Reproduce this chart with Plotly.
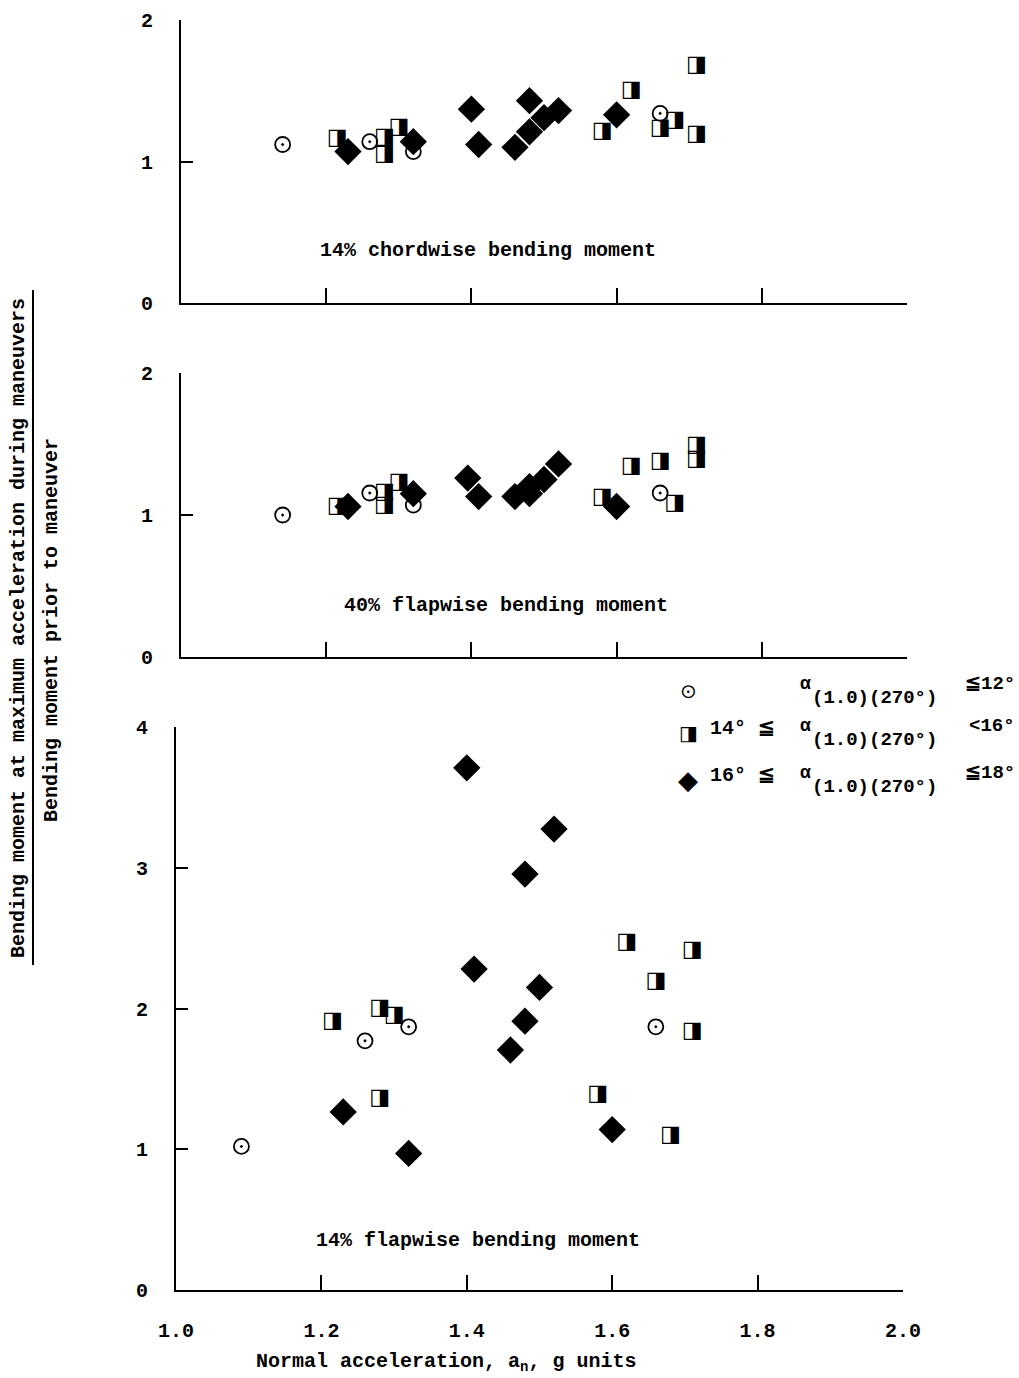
import plotly.graph_objects as go

# ---- data: normal acceleration (g) vs. bending-moment ratio ----
# Panel A: 14% chordwise bending moment
a_circ_x = [1.14, 1.26, 1.32, 1.66]
a_circ_y = [1.12, 1.14, 1.07, 1.34]
a_sq_x = [1.215, 1.28, 1.28, 1.30, 1.58, 1.62, 1.66, 1.68, 1.71, 1.71]
a_sq_y = [1.16, 1.17, 1.05, 1.24, 1.21, 1.50, 1.23, 1.29, 1.68, 1.19]
a_dia_x = [1.23, 1.32, 1.40, 1.41, 1.46, 1.48, 1.48, 1.50, 1.52, 1.60]
a_dia_y = [1.07, 1.14, 1.37, 1.12, 1.10, 1.43, 1.21, 1.31, 1.36, 1.33]

# Panel B: 40% flapwise bending moment
b_circ_x = [1.14, 1.26, 1.32, 1.66]
b_circ_y = [1.00, 1.155, 1.07, 1.155]
b_sq_x = [1.215, 1.28, 1.28, 1.30, 1.58, 1.62, 1.66, 1.68, 1.71, 1.71]
b_sq_y = [1.06, 1.16, 1.07, 1.23, 1.12, 1.34, 1.38, 1.08, 1.49, 1.39]
b_dia_x = [1.23, 1.32, 1.395, 1.41, 1.46, 1.48, 1.48, 1.50, 1.52, 1.60]
b_dia_y = [1.06, 1.15, 1.26, 1.13, 1.13, 1.20, 1.15, 1.25, 1.36, 1.06]

# Panel C: 14% flapwise bending moment
c_circ_x = [1.09, 1.26, 1.32, 1.66]
c_circ_y = [1.02, 1.77, 1.87, 1.87]
c_sq_x = [1.215, 1.28, 1.28, 1.30, 1.58, 1.62, 1.66, 1.68, 1.71, 1.71]
c_sq_y = [1.91, 2.00, 1.36, 1.95, 1.39, 2.47, 2.19, 1.10, 2.415, 1.84]
c_dia_x = [1.23, 1.32, 1.40, 1.41, 1.46, 1.48, 1.48, 1.50, 1.52, 1.60]
c_dia_y = [1.265, 0.97, 3.71, 2.28, 1.705, 2.955, 1.91, 2.15, 3.275, 1.14]

panel_titles = ["14% chordwise bending moment",
                "40% flapwise bending moment",
                "14% flapwise bending moment"]
x_ticks = [1.0, 1.2, 1.4, 1.6, 1.8, 2.0]
x_ticklabels = ["1.0", "1.2", "1.4", "1.6", "1.8", "2.0"]

W, H = 1019, 1378
FONT = "Liberation Mono"
INK = "black"


def px_x(p):
    return p / W


def px_y(p):
    return 1 - p / H


fig = go.Figure()

panels = [
    (a_circ_x, a_circ_y, a_sq_x, a_sq_y, a_dia_x, a_dia_y, "x", "y"),
    (b_circ_x, b_circ_y, b_sq_x, b_sq_y, b_dia_x, b_dia_y, "x2", "y2"),
    (c_circ_x, c_circ_y, c_sq_x, c_sq_y, c_dia_x, c_dia_y, "x3", "y3"),
]

for cx, cy, sx, sy, dx, dy, xa, ya in panels:
    fig.add_trace(go.Scatter(
        x=cx, y=cy, mode="markers", xaxis=xa, yaxis=ya, showlegend=False,
        marker=dict(symbol="circle-open-dot", size=15, color=INK,
                    line=dict(width=1.8, color=INK))))
    fig.add_trace(go.Scatter(
        x=sx, y=sy, mode="text", text=["◨"] * len(sx), xaxis=xa, yaxis=ya,
        showlegend=False, textposition="middle center",
        textfont=dict(family="DejaVu Sans", size=22, color=INK)))
    fig.add_trace(go.Scatter(
        x=dx, y=dy, mode="markers", xaxis=xa, yaxis=ya, showlegend=False,
        marker=dict(symbol="diamond", size=21, color=INK,
                    line=dict(width=0))))

axis_common = dict(showgrid=False, zeroline=False, showline=True,
                   automargin=False,
                   linecolor=INK, linewidth=2, ticks="inside",
                   tickcolor=INK, tickwidth=2,
                   tickfont=dict(family=FONT, size=20, color=INK, weight="bold"))

# x domains (pixels 181..907 for the upper panels, 176..903 for the lower)
xdom_top = [px_x(181), px_x(907)]
xdom_bot = [px_x(176), px_x(903)]

fig.update_layout(
    width=W, height=H, margin=dict(l=0, r=0, t=0, b=0, autoexpand=False),
    paper_bgcolor="white", plot_bgcolor="white",
    xaxis=dict(axis_common, domain=xdom_top, range=[1.0, 2.0], anchor="y",
               tickvals=x_ticks[1:], showticklabels=False, ticklen=15),
    yaxis=dict(axis_common, domain=[px_y(303), px_y(20)], range=[0, 2],
               anchor="x", tickvals=[0, 1, 2], ticklen=12,
               ticklabelstandoff=22),
    xaxis2=dict(axis_common, domain=xdom_top, range=[1.0, 2.0], anchor="y2",
                tickvals=x_ticks[1:], showticklabels=False, ticklen=15),
    yaxis2=dict(axis_common, domain=[px_y(657), px_y(373)], range=[0, 2],
                anchor="x2", tickvals=[0, 1, 2], ticklen=12,
                ticklabelstandoff=22),
    xaxis3=dict(axis_common, domain=xdom_bot, range=[1.0, 2.0], anchor="y3",
                tickvals=x_ticks, ticktext=x_ticklabels, ticklen=15,
                ticklabelstandoff=21),
    yaxis3=dict(axis_common, domain=[px_y(1290), px_y(727)], range=[0, 4],
                anchor="x3", tickvals=[0, 1, 2, 3, 4], ticklen=12,
                ticklabelstandoff=22),
)

annotations = []
txt = dict(family=FONT, size=20, color=INK, weight="bold")


def note(text, xp, yp, font=txt, xanchor="center", **kw):
    annotations.append(dict(text=text, x=px_x(xp), y=px_y(yp), xref="paper",
                            yref="paper", showarrow=False, font=font,
                            xanchor=xanchor, yanchor="middle", **kw))


# panel captions
for title, (cxp, cyp) in zip(panel_titles, [(488, 250), (506, 605), (478, 1240)]):
    note(title, cxp, cyp)

# x-axis title
note("Normal acceleration, a<sub>n</sub>, g units", 446, 1362)

# y-axis title as a fraction
note("Bending moment at maximum acceleration during maneuvers", 18, 628,
     textangle=-90)
note("Bending moment prior to maneuver", 51, 630, textangle=-90)

# legend key
alpha_font = dict(family=FONT, size=18, color=INK, weight="bold")
sub_font = dict(family=FONT, size=19, color=INK, weight="bold")
bound_font = dict(family=FONT, size=19, color=INK, weight="bold")
legend_rows = [
    ("⊙", 20, "", "≦12°", 691),
    ("◨", 20, "14° ≦", "<16°", 733),
    ("◆", 26, "16° ≦", "≦18°", 780),
]
for sym, sym_size, lo, hi, yy in legend_rows:
    note(sym, 688, yy, font=dict(family="DejaVu Sans", size=sym_size, color=INK))
    if lo:
        note(lo, 708, yy - 5, xanchor="left")
    note("α", 798, yy - 7, font=alpha_font, xanchor="left")
    note("(1.0)(270°)", 810, yy + 7, font=sub_font, xanchor="left")
    note(hi, 1017, yy - 7, font=bound_font, xanchor="right")

fig.update_layout(annotations=annotations)

# fraction bar of the y-axis title
fig.add_shape(type="line", xref="paper", yref="paper",
              x0=px_x(33), x1=px_x(33), y0=px_y(965), y1=px_y(290),
              line=dict(color=INK, width=2))

fig.write_html("out.html")
